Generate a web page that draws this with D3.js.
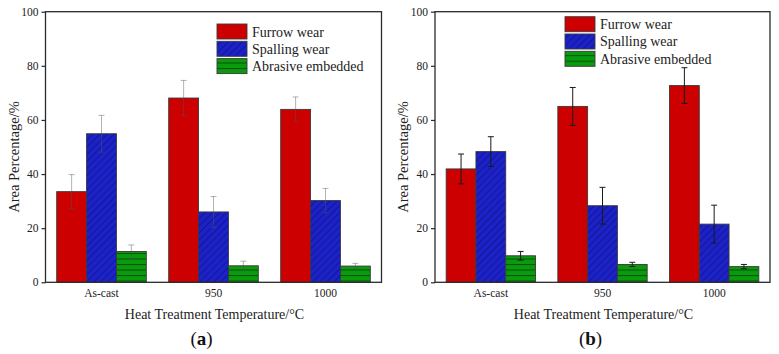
<!DOCTYPE html>
<html>
<head>
<meta charset="utf-8">
<script src="https://cdn.jsdelivr.net/npm/d3@7"></script>
</head>
<body style="margin:0;padding:0;background:#fff">
<svg id="chart" width="779" height="354" style="display:block"></svg>
<script>
// ---------- data ----------
const categories = ["As-cast", "950", "1000"];
const seriesNames = ["Furrow wear", "Spalling wear", "Abrasive embedded"];
const yTicks = [0, 20, 40, 60, 80, 100];

// panel (a)
const furrowA = [33.5, 68.1, 63.9];
const furrowErrA = [6.3, 6.5, 4.6];
const spallingA = [54.9, 26.0, 30.2];
const spallingErrA = [6.8, 5.7, 4.5];
const abrasiveA = [11.4, 6.1, 6.0];
const abrasiveErrA = [2.4, 1.7, 1.0];

// panel (b)
const furrowB = [41.9, 65.0, 72.7];
const furrowErrB = [5.5, 7.0, 6.6];
const spallingB = [48.3, 28.3, 21.5];
const spallingErrB = [5.5, 6.8, 7.0];
const abrasiveB = [9.8, 6.6, 5.8];
const abrasiveErrB = [1.6, 0.8, 0.8];

const xTitle = "Heat Treatment Temperature/\u00B0C";
const yTitle = "Area Percentage/%";

const FONT = "'Liberation Serif', 'Times New Roman', serif";

// ---------- drawing ----------
const svg = d3.select("#chart");
const defs = svg.append("defs");

// patterns
const pBlue = defs.append("pattern").attr("id", "hatchBlue")
  .attr("patternUnits", "userSpaceOnUse").attr("width", 5).attr("height", 5)
  .attr("patternTransform", "rotate(45)");
pBlue.append("rect").attr("width", 5).attr("height", 5).attr("fill", "#1c22c8");
pBlue.append("line").attr("x1", 0).attr("y1", 0).attr("x2", 0).attr("y2", 5)
  .attr("stroke", "#0b0f6e").attr("stroke-width", 1.2);

const pGreen = defs.append("pattern").attr("id", "hatchGreen")
  .attr("patternUnits", "userSpaceOnUse").attr("width", 6).attr("height", 5.5);
pGreen.append("rect").attr("width", 6).attr("height", 5.5).attr("fill", "#0a9a0e");
pGreen.append("line").attr("x1", 0).attr("y1", 0.5).attr("x2", 6).attr("y2", 0.5)
  .attr("stroke", "#06520a").attr("stroke-width", 1);

const fills = ["#cc0000", "url(#hatchBlue)", "url(#hatchGreen)"];

function txt(sel) {
  return sel.style("font-family", FONT);
}

function drawPanel(opt) {
  const g = svg.append("g");
  const x = d3.scaleBand().domain(categories).range([opt.x0, opt.x1])
    .paddingInner(0.2).paddingOuter(0.1);
  const xs = d3.scaleBand().domain(seriesNames).range([0, x.bandwidth()]).padding(0);
  const y = d3.scaleLinear().domain([0, 100]).range([opt.y1, opt.y0]);

  const series = seriesNames.map((name, i) => ({
    name, fill: fills[i], values: opt.values[i], errs: opt.errs[i]
  }));

  // bars
  series.forEach(s => {
    g.selectAll(null).data(categories).enter().append("rect")
      .attr("x", c => x(c) + xs(s.name))
      .attr("y", (c, j) => y(s.values[j]))
      .attr("width", xs.bandwidth())
      .attr("height", (c, j) => y(0) - y(s.values[j]))
      .attr("fill", s.fill)
      .attr("stroke", "#3a3a3a")
      .attr("stroke-width", 0.9);
  });

  // error bars
  series.forEach(s => {
    const eg = g.append("g")
      .attr("stroke", opt.errColor).attr("stroke-opacity", opt.errOpacity)
      .attr("stroke-width", 1).attr("fill", "none");
    categories.forEach((c, j) => {
      const cx = x(c) + xs(s.name) + xs.bandwidth() / 2;
      const top = y(s.values[j] + s.errs[j]);
      const bot = y(s.values[j] - s.errs[j]);
      eg.append("line").attr("x1", cx).attr("x2", cx).attr("y1", top).attr("y2", bot);
      eg.append("line").attr("x1", cx - 3).attr("x2", cx + 3).attr("y1", top).attr("y2", top);
      eg.append("line").attr("x1", cx - 3).attr("x2", cx + 3).attr("y1", bot).attr("y2", bot);
    });
  });

  // frame
  g.append("rect").attr("x", opt.x0).attr("y", opt.y0)
    .attr("width", opt.x1 - opt.x0).attr("height", opt.y1 - opt.y0)
    .attr("fill", "none").attr("stroke", "#2a2a2a").attr("stroke-width", 1.3);

  // y axis
  const yAxis = d3.axisLeft(y).tickValues(yTicks).tickSize(4).tickPadding(3);
  const ya = g.append("g").attr("transform", `translate(${opt.x0},0)`).call(yAxis);
  ya.select(".domain").remove();
  ya.selectAll(".tick line").attr("stroke", "#2a2a2a").attr("stroke-width", 1.2);
  txt(ya.selectAll(".tick text")).style("font-size", "11.5px").attr("fill", "#222");

  // x axis
  const xAxis = d3.axisBottom(x).tickSize(0).tickPadding(6.5);
  const xa = g.append("g").attr("transform", `translate(0,${opt.y1})`).call(xAxis);
  xa.select(".domain").remove();
  txt(xa.selectAll(".tick text")).style("font-size", "11.5px").attr("fill", "#222");

  // axis titles
  txt(g.append("text")).attr("x", (opt.x0 + opt.x1) / 2 + 1).attr("y", 319)
    .attr("text-anchor", "middle").style("font-size", "14px").attr("fill", "#222").text(xTitle);
  txt(g.append("text"))
    .attr("transform", `translate(${opt.x0 - 27},${(opt.y0 + opt.y1) / 2 + 10}) rotate(-90)`)
    .attr("text-anchor", "middle").style("font-size", "14.5px").attr("fill", "#222").text(yTitle);

  // panel label
  txt(g.append("text")).attr("x", (opt.x0 + opt.x1) / 2 - 12).attr("y", 345)
    .attr("text-anchor", "middle").style("font-size", "19px").attr("fill", "#111")
    .selectAll("tspan").data(["(", opt.label, ")"]).enter().append("tspan")
    .style("font-weight", (d, i) => i === 1 ? "bold" : "normal").text(d => d);

  // legend
  const lg = g.append("g").attr("transform", `translate(${opt.legX},${opt.legY})`);
  seriesNames.forEach((name, i) => {
    lg.append("rect").attr("x", 0).attr("y", i * 17.3).attr("width", 30).attr("height", 15)
      .attr("fill", fills[i]).attr("stroke", "#3a3a3a").attr("stroke-width", 0.9);
    txt(lg.append("text")).attr("x", 35).attr("y", i * 17.3 + 12.5)
      .style("font-size", "14px").attr("fill", "#222").text(name);
  });
}

drawPanel({
  x0: 45.5, x1: 381.5, y0: 11.7, y1: 282.3, label: "a",
  values: [furrowA, spallingA, abrasiveA], errs: [furrowErrA, spallingErrA, abrasiveErrA],
  errColor: "#555", errOpacity: 0.45, legX: 217, legY: 24
});
drawPanel({
  x0: 435, x1: 770, y0: 11.7, y1: 282.3, label: "b",
  values: [furrowB, spallingB, abrasiveB], errs: [furrowErrB, spallingErrB, abrasiveErrB],
  errColor: "#1a1a1a", errOpacity: 1, legX: 565, legY: 16.7
});
</script>
</body>
</html>
